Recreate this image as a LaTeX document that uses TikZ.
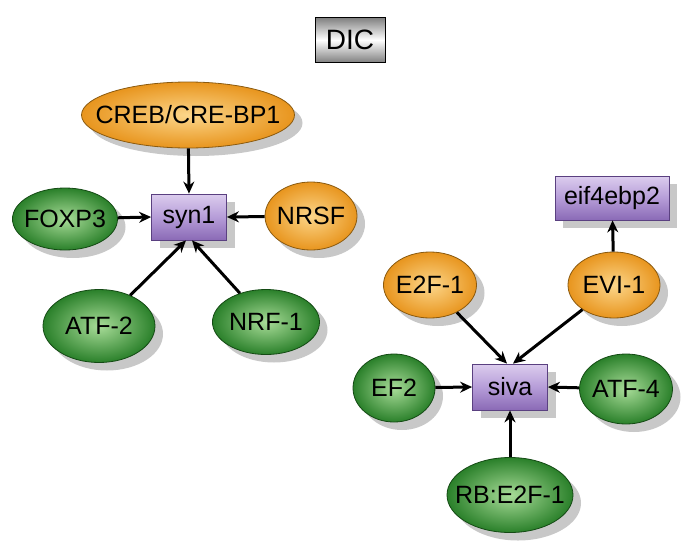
\documentclass[tikz,border=0pt]{standalone}
\usepackage{fontspec}
\setmainfont{Liberation Sans}
\usetikzlibrary{shapes.geometric,arrows.meta,shadows}
\definecolor{orin}{HTML}{FCD68A}
\definecolor{orout}{HTML}{E8951E}
\definecolor{orline}{HTML}{8A5A10}
\definecolor{grin}{HTML}{A8DC98}
\definecolor{grout}{HTML}{2A802A}
\definecolor{grline}{HTML}{144A14}
\definecolor{bxtop}{HTML}{DCCDEE}
\definecolor{bxmid}{HTML}{B69DD8}
\definecolor{bxbot}{HTML}{8A6AB6}
\definecolor{bxline}{HTML}{5A4080}
\definecolor{shd}{HTML}{C8C8C8}
\newcommand{\lbl}[1]{\makebox[0pt]{#1}}
\tikzset{
  shd/.style={drop shadow={shadow xshift=8pt, shadow yshift=-8pt, fill=shd, opacity=1}},
  orell/.style={ellipse, shd, draw=orline, line width=0.8pt, inner color=orin, outer color=orout,
     inner sep=0pt, font=\fontsize{25}{29}\selectfont},
  grell/.style={ellipse, shd, draw=grline, line width=0.8pt, inner color=grin, outer color=grout,
     inner sep=0pt, font=\fontsize{25}{29}\selectfont},
  genebox/.style={rectangle, shd, draw=bxline, line width=0.8pt, top color=bxtop, bottom color=bxbot,
     middle color=bxmid, inner sep=0pt, font=\fontsize{25}{29}\selectfont},
  titlebox/.style={rectangle, draw=black, line width=0.8pt, top color=black!50, bottom color=black!50,
     middle color=white, inner sep=0pt, minimum width=70pt, minimum height=45pt, font=\fontsize{28}{32}\selectfont},
  conn/.style={-{Stealth[length=12pt,width=11pt]}, line width=3pt, black}
}
\begin{document}
\begin{tikzpicture}[x=1pt,y=-1pt]
\useasboundingbox (0,0) rectangle (685,549);
\node[titlebox] (dic) at (350,40) {DIC};
% left cluster
\node[genebox, minimum width=75pt, minimum height=46pt] (syn1) at (189,217) {\lbl{syn1}};
\node[orell, minimum width=213pt, minimum height=66pt] (creb) at (188,115) {\lbl{CREB/CRE-BP1}};
\node[grell, minimum width=105pt, minimum height=62pt] (foxp3) at (65,219) {\lbl{FOXP3}};
\node[orell, minimum width=92pt, minimum height=68pt] (nrsf) at (311,216) {\lbl{NRSF}};
\node[grell, minimum width=112pt, minimum height=73pt] (atf2) at (99,326) {\lbl{ATF-2}};
\node[grell, minimum width=107pt, minimum height=65pt] (nrf1) at (266,322) {\lbl{NRF-1}};
% right cluster
\node[genebox, minimum width=114pt, minimum height=44pt] (eif) at (612,198) {\lbl{eif4ebp2}};
\node[genebox, minimum width=75pt, minimum height=46pt] (siva) at (510,387) {\lbl{siva}};
\node[orell, minimum width=93pt, minimum height=66pt] (e2f1) at (430,285) {\lbl{E2F-1}};
\node[orell, minimum width=92pt, minimum height=66pt] (evi1) at (614,285) {\lbl{EVI-1}};
\node[grell, minimum width=82pt, minimum height=68pt] (ef2) at (394,388) {\lbl{EF2}};
\node[grell, minimum width=93pt, minimum height=70pt] (atf4) at (626,389) {\lbl{ATF-4}};
\node[grell, minimum width=126pt, minimum height=75pt] (rb) at (510,495) {\lbl{RB:E2F-1}};
% connectors
\draw[conn] (creb) -- (syn1.north);
\draw[conn] (foxp3) -- (syn1.west);
\draw[conn] (nrsf) -- (syn1.east);
\draw[conn] (atf2) -- ([xshift=-3pt]syn1.south);
\draw[conn] (nrf1) -- ([xshift=3pt]syn1.south);
\draw[conn] (e2f1) -- ([xshift=-3pt]siva.north);
\draw[conn] (evi1) -- ([xshift=3pt]siva.north);
\draw[conn] (evi1) -- (eif);
\draw[conn] (ef2) -- (siva.west);
\draw[conn] (atf4) -- (siva.east);
\draw[conn] (rb) -- (siva.south);
\end{tikzpicture}
\end{document}
